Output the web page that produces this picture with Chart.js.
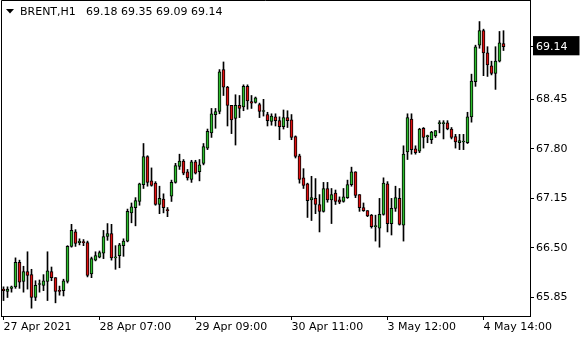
<!DOCTYPE html>
<html>
<head>
<meta charset="utf-8">
<script src="https://cdn.jsdelivr.net/npm/chart.js@4.4.1/dist/chart.umd.min.js"></script>
<style>
  html, body { margin: 0; padding: 0; background: #fff; }
  canvas { display: block; }
</style>
</head>
<body>
<canvas id="chart" width="580" height="340"></canvas>
<script>
const symbol = 'BRENT,H1'

// hourly OHLC, oldest first
const opens = [
  65.96, 65.93, 65.97, 65.99, 66.31, 66.06, 66.19, 66.15, 65.85, 66.02,
  66.01, 66.06, 66.19, 66.11, 65.94, 65.94, 66.06, 66.52, 66.71, 66.57,
  66.58, 66.57, 66.16, 66.34, 66.38, 66.43, 66.65, 66.69, 66.37, 66.40,
  66.53, 66.59, 66.96, 67.03, 67.11, 67.33, 67.70, 67.38, 67.35, 67.07,
  67.14, 67.00, 67.18, 67.36, 67.57, 67.64, 67.50, 67.40, 67.63, 67.50,
  67.61, 67.81, 68.01, 68.25, 68.29, 68.84, 68.61, 68.37, 68.20, 68.37,
  68.35, 68.62, 68.42, 68.41, 68.38, 68.29, 68.25, 68.16, 68.22, 68.17,
  68.09, 68.21, 68.18, 67.96, 67.71, 67.42, 67.34, 67.13, 67.15, 67.07,
  66.98, 67.28, 67.13, 67.22, 67.13, 67.11, 67.16, 67.33, 67.50, 67.20,
  67.03, 66.99, 66.93, 66.78, 66.76, 66.94, 67.34, 66.82, 67.02, 67.15,
  66.80, 67.76, 68.19, 67.80, 67.77, 68.07, 67.96, 67.92, 67.97, 68.13,
  68.13, 68.14, 68.06, 67.96, 67.88, 67.89, 67.88, 68.22, 68.68, 69.16,
  69.35, 69.06, 68.89, 68.79, 68.95, 69.18
]
const highs = [
  65.99, 65.99, 66.00, 66.37, 66.34, 66.26, 66.45, 66.22, 66.07, 66.08,
  66.15, 66.45, 66.25, 66.11, 66.00, 66.09, 66.53, 66.81, 66.74, 66.62,
  66.61, 66.59, 66.38, 66.45, 66.46, 66.73, 66.82, 66.81, 66.53, 66.56,
  66.62, 67.01, 67.09, 67.16, 67.35, 67.87, 67.71, 67.55, 67.37, 67.31,
  67.21, 67.03, 67.39, 67.61, 67.73, 67.66, 67.53, 67.65, 67.65, 67.66,
  67.87, 68.06, 68.33, 68.33, 68.84, 68.94, 68.62, 68.37, 68.51, 68.50,
  68.64, 68.64, 68.50, 68.48, 68.40, 68.45, 68.28, 68.26, 68.26, 68.22,
  68.31, 68.30, 68.25, 67.97, 67.73, 67.54, 67.35, 67.44, 67.41, 67.20,
  67.36, 67.36, 67.28, 67.26, 67.17, 67.28, 67.39, 67.56, 67.50, 67.20,
  67.09, 66.99, 66.94, 66.93, 67.15, 67.42, 67.37, 67.15, 67.31, 67.28,
  67.84, 68.26, 68.26, 67.84, 68.07, 68.08, 67.98, 68.03, 68.04, 68.17,
  68.17, 68.17, 68.08, 67.99, 67.99, 67.99, 68.28, 68.78, 69.16, 69.47,
  69.37, 69.14, 68.95, 69.14, 69.34, 69.35
]
const lows = [
  65.81, 65.85, 65.92, 65.97, 65.97, 65.92, 65.96, 65.71, 65.81, 65.92,
  65.94, 65.81, 66.07, 65.78, 65.88, 65.87, 66.04, 66.51, 66.52, 66.54,
  66.53, 66.12, 66.11, 66.33, 66.37, 66.36, 66.60, 66.34, 66.22, 66.24,
  66.39, 66.58, 66.83, 66.79, 67.06, 67.28, 67.31, 67.31, 67.06, 66.95,
  66.96, 66.91, 67.11, 67.35, 67.53, 67.46, 67.39, 67.36, 67.47, 67.38,
  67.59, 67.79, 67.95, 68.07, 68.26, 68.50, 68.10, 68.00, 67.85, 68.21,
  68.30, 68.32, 68.33, 68.40, 68.21, 68.23, 68.10, 68.11, 68.10, 67.92,
  68.06, 68.08, 67.92, 67.68, 67.35, 67.28, 66.90, 66.86, 66.95, 66.71,
  66.97, 67.10, 66.82, 67.07, 67.08, 67.10, 67.15, 67.31, 67.16, 66.98,
  66.98, 66.91, 66.76, 66.59, 66.51, 66.93, 66.71, 66.67, 66.98, 66.80,
  66.59, 67.66, 67.73, 67.73, 67.75, 67.81, 67.88, 67.87, 67.95, 68.01,
  67.93, 68.05, 67.93, 67.81, 67.79, 67.79, 67.87, 68.15, 68.62, 69.12,
  68.76, 68.75, 68.77, 68.58, 68.94, 69.09
]
const closes = [
  65.94, 65.96, 65.99, 66.31, 66.05, 66.19, 66.14, 65.85, 66.01, 66.03,
  66.07, 66.20, 66.11, 65.93, 65.93, 66.07, 66.52, 66.73, 66.56, 66.59,
  66.57, 66.14, 66.36, 66.40, 66.44, 66.65, 66.69, 66.37, 66.38, 66.54,
  66.59, 66.98, 67.04, 67.12, 67.34, 67.70, 67.36, 67.32, 67.07, 67.15,
  67.03, 66.99, 67.36, 67.58, 67.64, 67.48, 67.42, 67.63, 67.48, 67.59,
  67.83, 68.03, 68.26, 68.29, 68.81, 68.61, 68.37, 68.18, 68.37, 68.33,
  68.62, 68.43, 68.40, 68.47, 68.29, 68.30, 68.17, 68.23, 68.17, 68.09,
  68.21, 68.17, 67.95, 67.70, 67.40, 67.32, 67.12, 67.16, 67.07, 66.98,
  67.28, 67.13, 67.20, 67.11, 67.10, 67.17, 67.33, 67.50, 67.19, 67.03,
  66.99, 66.92, 66.78, 66.78, 66.94, 67.35, 66.82, 67.02, 67.16, 66.81,
  67.73, 68.21, 67.79, 67.75, 68.06, 67.95, 67.96, 68.02, 68.04, 68.14,
  68.13, 68.06, 67.95, 67.89, 67.91, 67.89, 68.22, 68.69, 69.14, 69.35,
  69.06, 68.90, 68.79, 68.95, 69.19, 69.14
]

const timeLabels = ['27 Apr 2021', '28 Apr 07:00', '29 Apr 09:00', '30 Apr 11:00', '3 May 12:00', '4 May 14:00']
const timeLabelBars = [0, 24, 48, 72, 96, 120]
const priceTicks = [65.85, 66.50, 67.15, 67.80, 68.45]

const bullColor = '#2cbc2c'
const bearColor = '#e01010'
const textFont = { family: 'DejaVu Sans', size: 11 }

const last = opens.length - 1
const lastClose = closes[last]

// Frame lines (top, left) and the symbol / OHLC header in the top left corner
const chartDecor = {
  id: 'chartDecor',
  afterDraw(chart) {
    const { ctx, chartArea } = chart
    ctx.save()
    ctx.strokeStyle = '#000'
    ctx.lineWidth = 1
    ctx.beginPath()
    ctx.moveTo(chartArea.right, chartArea.top + 0.5)
    ctx.lineTo(chartArea.left + 0.5, chartArea.top + 0.5)
    ctx.lineTo(chartArea.left + 0.5, chartArea.bottom)
    ctx.stroke()

    ctx.fillStyle = '#000'
    ctx.beginPath()
    ctx.moveTo(6, 9)
    ctx.lineTo(14, 9)
    ctx.lineTo(10, 13.5)
    ctx.closePath()
    ctx.fill()

    ctx.font = '11px "DejaVu Sans"'
    ctx.textBaseline = 'middle'
    ctx.fillText(symbol, 20, 12.5)
    const ohlc = [opens[last], highs[last], lows[last], closes[last]].map((v) => v.toFixed(2)).join(' ')
    ctx.fillText(ohlc, 86, 12.5)
    ctx.restore()
  }
}

const bodies = opens.map((o, i) => ({ x: i, y: [o, closes[i]] }))
const wicks = lows.map((l, i) => ({ x: i, y: [l, highs[i]] }))

const isLast = (c) => c.tick && c.tick.value === lastClose

new Chart(document.getElementById('chart').getContext('2d'), {
  type: 'bar',
  data: {
    datasets: [
      {
        data: bodies,
        backgroundColor: opens.map((o, i) => (closes[i] >= o ? bullColor : bearColor)),
        borderColor: '#000',
        borderWidth: 1,
        borderSkipped: false,
        barThickness: 3,
        minBarLength: 1,
        grouped: false
      },
      {
        data: wicks,
        backgroundColor: '#000',
        borderWidth: 0,
        barThickness: 1,
        grouped: false
      }
    ]
  },
  options: {
    responsive: false,
    animation: false,
    devicePixelRatio: 1,
    layout: { padding: { left: 1, top: 0, right: 0, bottom: 0 } },
    plugins: {
      legend: { display: false },
      tooltip: { enabled: false }
    },
    scales: {
      x: {
        type: 'linear',
        min: -0.625,
        max: 131.625,
        offset: false,
        grid: { drawOnChartArea: false, offset: false, tickLength: 4, color: '#000' },
        border: { color: '#000' },
        ticks: {
          autoSkip: false,
          maxRotation: 0,
          align: 'start',
          padding: 1,
          color: '#000',
          font: textFont,
          callback: (v, i) => timeLabels[i]
        },
        afterBuildTicks: (scale) => { scale.ticks = timeLabelBars.map((v) => ({ value: v })) },
        afterFit: (scale) => {
          scale.height = 24
          scale.paddingLeft = 0
          scale.paddingRight = 0
        }
      },
      y: {
        position: 'right',
        min: 65.6073,
        max: 69.7527,
        grid: { drawOnChartArea: false, tickLength: 4, color: '#000' },
        border: { color: '#000' },
        ticks: {
          autoSkip: false,
          padding: 2,
          font: textFont,
          color: (c) => (isLast(c) ? '#fff' : '#000'),
          showLabelBackdrop: true,
          backdropColor: (c) => (isLast(c) ? '#000' : 'rgba(0,0,0,0)'),
          backdropPadding: { top: 4, bottom: 2, left: 3, right: 12 },
          callback: (v) => v.toFixed(2)
        },
        afterBuildTicks: (scale) => { scale.ticks = priceTicks.concat([lastClose]).map((v) => ({ value: v })) },
        afterFit: (scale) => {
          scale.width = 50
          scale.paddingTop = 0
          scale.paddingBottom = 0
        }
      }
    }
  },
  plugins: [chartDecor]
})
</script>
</body>
</html>
